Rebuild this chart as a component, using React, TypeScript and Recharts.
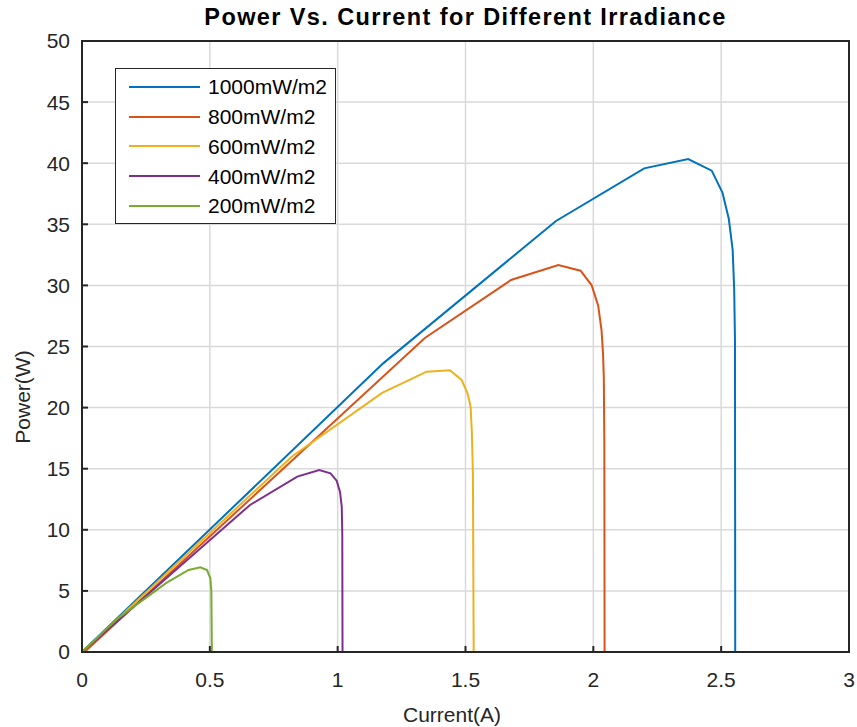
import { LineChart, Line, XAxis, YAxis, CartesianGrid, Legend, ReferenceArea } from "recharts";

// Courbes P-I pour chaque éclairement
const current1000 = [0, 1.178, 1.854, 2.199, 2.371, 2.463, 2.505, 2.53, 2.545, 2.551, 2.554, 2.555];
const power1000 = [0, 23.62, 35.27, 39.58, 40.34, 39.39, 37.6, 35.43, 32.9, 29.6, 25.5, 0];

const current800 = [0.01, 1.341, 1.678, 1.863, 1.95, 1.993, 2.019, 2.032, 2.038, 2.041, 2.043, 2.044];
const power800 = [0, 25.7, 30.44, 31.67, 31.2, 30.03, 28.34, 26.35, 24.4, 22.4, 17.3, 0];

const current600 = [0, 0.82, 1.174, 1.348, 1.439, 1.485, 1.508, 1.52, 1.525, 1.529, 1.532];
const power600 = [0, 15.98, 21.2, 22.94, 23.05, 22.26, 21.17, 20.07, 17.9, 14.6, 0];

const current400 = [0, 0.657, 0.842, 0.928, 0.972, 0.996, 1.009, 1.016, 1.018, 1.019];
const power400 = [0, 12.03, 14.35, 14.89, 14.62, 14.02, 13.12, 11.89, 9.7, 0];

const current200 = [0, 0.14, 0.33, 0.417, 0.463, 0.489, 0.502, 0.506, 0.508];
const power200 = [0, 2.75, 5.65, 6.71, 6.93, 6.71, 6.03, 4.93, 0];

const xTicks = [0, 0.5, 1, 1.5, 2, 2.5, 3];
const yTicks = [0, 5, 10, 15, 20, 25, 30, 35, 40, 45, 50];

const seriesNames = ["1000mW/m2", "800mW/m2", "600mW/m2", "400mW/m2", "200mW/m2"];
const seriesColors = ["#0072BD", "#D95319", "#EDB120", "#7E2F8E", "#77AC30"];

const toPoints = (xs: number[], ys: number[]) => xs.map((i, k) => ({ i, p: ys[k] }));

const series = [
  toPoints(current1000, power1000),
  toPoints(current800, power800),
  toPoints(current600, power600),
  toPoints(current400, power400),
  toPoints(current200, power200),
];

const FONT = '"Liberation Sans", Arial, Helvetica, sans-serif';
const INK = "#262626";

function LegendBox({ payload }: any) {
  // garde l'ordre de tracé (la légende trie par nom sinon)
  const items = [...(payload || [])].sort(
    (a: any, b: any) => seriesNames.indexOf(a.value) - seriesNames.indexOf(b.value)
  );
  return (
    <div
      style={{
        width: 221,
        height: 156,
        boxSizing: "border-box",
        border: `1.5px solid ${INK}`,
        background: "#fff",
        paddingTop: 3,
        fontFamily: FONT,
      }}
    >
      {items.map((entry: any) => (
        <div key={entry.value} style={{ display: "flex", alignItems: "center", height: 29.75 }}>
          <span style={{ display: "inline-block", width: 71, height: 2, marginLeft: 13, background: entry.color }} />
          <span style={{ marginLeft: 8, fontSize: 21, lineHeight: 1, color: "#000" }}>{entry.value}</span>
        </div>
      ))}
    </div>
  );
}

export default function App() {
  return (
    <div style={{ position: "absolute", left: 0, top: 0, width: 857, height: 727, background: "#fff", fontFamily: FONT }}>
      <LineChart width={857} height={727} margin={{ top: 41, right: 8, left: 0, bottom: 0 }}>
        <CartesianGrid stroke="#d9d9d9" strokeWidth={1.5} />
        <XAxis
          dataKey="i"
          type="number"
          domain={[0, 3]}
          ticks={xTicks}
          height={75}
          tickSize={-6}
          tickMargin={26}
          axisLine={{ stroke: INK, strokeWidth: 2 }}
          tickLine={{ stroke: INK, strokeWidth: 2 }}
          tick={{ fontSize: 21, fill: INK, fontFamily: FONT }}
          allowDataOverflow
        />
        <YAxis
          type="number"
          domain={[0, 50]}
          ticks={yTicks}
          width={82}
          tickSize={-6}
          tickMargin={18}
          axisLine={{ stroke: INK, strokeWidth: 2 }}
          tickLine={{ stroke: INK, strokeWidth: 2 }}
          tick={{ fontSize: 21, fill: INK, fontFamily: FONT }}
          allowDataOverflow
        />
        <ReferenceArea x1={0} x2={3} y1={0} y2={50} fill="none" stroke={INK} strokeWidth={2} ifOverflow="visible" />
        {series.map((pts, k) => (
          <Line
            key={seriesNames[k]}
            data={pts}
            dataKey="p"
            name={seriesNames[k]}
            type="linear"
            stroke={seriesColors[k]}
            strokeWidth={2}
            dot={false}
            activeDot={false}
            isAnimationActive={false}
          />
        ))}
        <Legend
          layout="vertical"
          align="center"
          verticalAlign="middle"
          content={<LegendBox />}
          wrapperStyle={{ left: 115, top: 68, width: 221, height: 156 }}
        />
      </LineChart>
      <div
        style={{
          position: "absolute",
          left: 465.5,
          top: 18,
          transform: "translate(-50%, -50%)",
          whiteSpace: "nowrap",
          fontSize: 23.5,
          fontWeight: "bold",
          letterSpacing: 1.4,
          lineHeight: 1,
          color: "#000",
        }}
      >
        Power Vs. Current for Different Irradiance
      </div>
      <div
        style={{
          position: "absolute",
          left: 452,
          top: 714,
          transform: "translate(-50%, -50%)",
          whiteSpace: "nowrap",
          fontSize: 21,
          lineHeight: 1,
          color: INK,
        }}
      >
        Current(A)
      </div>
      <div
        style={{
          position: "absolute",
          left: 22,
          top: 397,
          transform: "translate(-50%, -50%) rotate(-90deg)",
          whiteSpace: "nowrap",
          fontSize: 21,
          lineHeight: 1,
          color: INK,
        }}
      >
        Power(W)
      </div>
    </div>
  );
}
